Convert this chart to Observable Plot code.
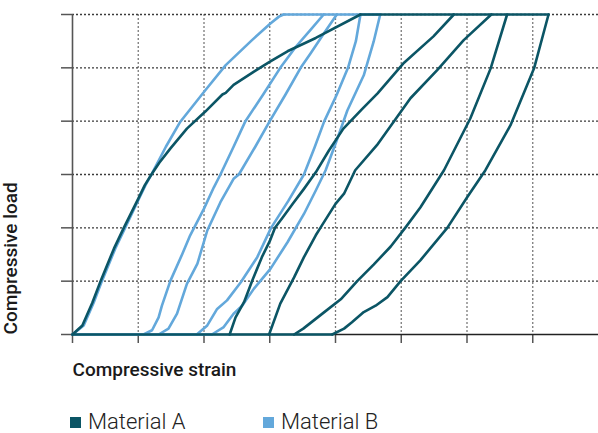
<!DOCTYPE html>
<html>
<head>
<meta charset="utf-8">
<script src="https://cdn.jsdelivr.net/npm/d3@7"></script>
<script src="https://cdn.jsdelivr.net/npm/@observablehq/plot@0.6"></script>
<style>
  html, body { margin: 0; padding: 0; background: #fff; }
  #wrap { position: relative; width: 598px; height: 433px; overflow: hidden; font-family: Roboto, sans-serif; }
  #chart svg { display: block; }
  .item { position: absolute; top: 411px; height: 22px; display: flex; align-items: center; font-size: 22px; line-height: 22px; font-weight: 300; color: #222; }
  .sw { width: 11px; height: 11px; margin-right: 7px; flex: none; }
</style>
</head>
<body>
<div id="wrap">
  <div id="chart"></div>
</div>
<script>
// ---- data (strain, load) ----
const strainTicks = [0, 1, 2, 3, 4, 5, 6, 7];
const loadTicks = [0, 1, 2, 3, 4, 5, 6];
const strainGrid = [1, 2, 3, 4, 5, 6, 7];
const loadGrid = [1, 2, 3, 4, 5, 6];
const materials = ["Material A", "Material B"];
const colors = ["#0b5565", "#63a8db"];

// Material A
const curveA0 = [[0,0],[0.15,0.17],[0.30,0.59],[0.43,1.01],[0.63,1.61],[0.78,2.00],[1.01,2.57],[1.10,2.80],[1.20,3.00],[1.32,3.22],[1.49,3.49],[1.74,3.86],[2.02,4.18],[2.28,4.50],[2.33,4.53],[2.45,4.68],[2.76,4.93],[3.01,5.12],[3.27,5.31],[3.70,5.56],[4.38,6]];
const curveA1 = [[2.39,0],[2.48,0.32],[2.61,0.61],[2.73,1.0],[2.88,1.45],[3.00,1.75],[3.08,2.0],[3.20,2.2],[3.35,2.45],[3.52,2.73],[3.70,3.04],[3.90,3.45],[4.12,3.86],[4.40,4.22],[4.64,4.52],[5.03,5.08],[5.49,5.59],[5.80,6]];
const curveA2 = [[2.99,0],[3.16,0.58],[3.37,1.07],[3.52,1.45],[3.70,1.86],[3.77,2.00],[4.00,2.45],[4.13,2.64],[4.30,3.08],[4.63,3.55],[5.14,4.43],[5.55,4.96],[5.95,5.52],[6.37,6]];
const curveA3 = [[3.37,0],[3.51,0.11],[3.82,0.41],[4.08,0.66],[4.33,1.00],[4.58,1.31],[4.84,1.65],[5.06,2.00],[5.29,2.38],[5.65,3.08],[6.05,4.05],[6.36,4.99],[6.61,6]];
const curveA4 = [[3.95,0],[4.13,0.11],[4.25,0.23],[4.43,0.42],[4.61,0.54],[4.79,0.70],[4.99,1.00],[5.29,1.39],[5.70,2.00],[6.00,2.57],[6.28,3.08],[6.66,3.92],[7.02,4.99],[7.24,6]];
const topA = [[4.38,6],[7.24,6]];
const baseA = [[0,0],[3.95,0]];

// Material B
const curveB0 = [[0,0],[0.17,0.17],[0.32,0.59],[0.45,1.01],[0.65,1.61],[0.80,2.00],[1.02,2.57],[1.11,2.80],[1.21,3.02],[1.42,3.52],[1.64,3.99],[2.02,4.58],[2.33,5.05],[2.73,5.52],[3.01,5.83],[3.14,5.96],[3.21,6]];
const curveB1 = [[1.08,0],[1.21,0.08],[1.31,0.32],[1.36,0.54],[1.49,1.01],[1.67,1.51],[1.79,1.86],[2.00,2.36],[2.15,2.76],[2.25,3.0],[2.45,3.52],[2.63,4.0],[2.90,4.5],[3.16,5.0],[3.40,5.40],[3.62,5.71],[3.82,6]];
const curveB2 = [[1.31,0],[1.46,0.11],[1.59,0.39],[1.74,0.95],[1.90,1.33],[2.05,1.95],[2.25,2.48],[2.45,2.92],[2.53,3.0],[2.78,3.52],[3.0,4.0],[3.24,4.5],[3.47,5.0],[3.62,5.27],[3.82,5.64],[4.02,6]];
const curveB3 = [[1.89,0],[2.05,0.17],[2.20,0.48],[2.35,0.64],[2.56,0.98],[2.81,1.45],[3.02,2.0],[3.28,2.5],[3.52,3.0],[3.68,3.5],[3.83,4.0],[4.02,4.5],[4.19,5.0],[4.31,5.5],[4.38,6]];
const curveB4 = [[2.12,0],[2.30,0.14],[2.45,0.39],[2.58,0.54],[2.76,0.86],[3.01,1.23],[3.27,1.73],[3.52,2.26],[3.70,2.70],[3.85,3.08],[4.01,3.61],[4.18,4.2],[4.43,4.86],[4.58,5.49],[4.68,6]];
const topB = [[3.21,6],[4.68,6]];
const baseB = [[0,0],[2.12,0]];

const xLabel = "Compressive strain";
const yLabel = "Compressive load";

// ---- build tables ----
function rows(material, curves) {
  const out = [];
  curves.forEach((pts, i) => pts.forEach(([s, l]) => out.push({material, curve: material + i, strain: s, load: l})));
  return out;
}
const rowsA = rows(materials[0], [curveA0, curveA1, curveA2, curveA3, curveA4, topA, baseA]);
const rowsB = rows(materials[1], [curveB0, curveB1, curveB2, curveB3, curveB4, topB, baseB]);

const chart = Plot.plot({
  width: 598,
  height: 395,
  marginLeft: 72,
  marginRight: 0,
  marginTop: 14,
  marginBottom: 61,
  style: {fontFamily: "Roboto, sans-serif", background: "#fff"},
  x: {domain: [0, 8]},
  y: {domain: [0, 6]},
  color: {domain: materials, range: colors},
  marks: [
    Plot.ruleX(strainGrid, {stroke: "#7a7a7a", strokeWidth: 1.3, strokeDasharray: "2,2"}),
    Plot.ruleY(loadGrid, {stroke: "#3a3a3a", strokeWidth: 1.3, strokeDasharray: "2,2"}),
    Plot.axisX({ticks: strainTicks, tickSize: 9, tickFormat: () => "", label: null, stroke: "#555", strokeWidth: 1.5}),
    Plot.axisY({ticks: loadTicks, tickSize: 11, tickFormat: () => "", label: null, stroke: "#555", strokeWidth: 1.5}),
    Plot.ruleX([0], {stroke: "#555", strokeWidth: 1.6}),
    Plot.ruleY([0], {stroke: "#222", strokeWidth: 1.6}),
    Plot.line(rowsB, {x: "strain", y: "load", z: "curve", stroke: "material", strokeWidth: 2.6, strokeLinejoin: "round"}),
    Plot.line(rowsA, {x: "strain", y: "load", z: "curve", stroke: "material", strokeWidth: 2.6, strokeLinejoin: "round"}),
    Plot.text([xLabel], {text: d => d, frameAnchor: "bottom-left", textAnchor: "start", dy: 41, fontSize: 19, fontWeight: 500, fill: "#1a1a1a"}),
    Plot.text([yLabel], {text: d => d, frameAnchor: "bottom-left", textAnchor: "start", rotate: -90, dx: -56, fontSize: 19, fontWeight: 500, fill: "#1a1a1a"})
  ]
});
document.getElementById("chart").appendChild(chart);

// legend below the svg
const wrap = document.getElementById("wrap");
const lefts = [70, 263];
materials.forEach((m, i) => {
  const it = document.createElement("div");
  it.className = "item";
  it.style.left = lefts[i] + "px";
  const sw = document.createElement("span");
  sw.className = "sw";
  sw.style.background = colors[i];
  const tx = document.createElement("span");
  tx.textContent = m;
  it.appendChild(sw);
  it.appendChild(tx);
  wrap.appendChild(it);
});
</script>
</body>
</html>
